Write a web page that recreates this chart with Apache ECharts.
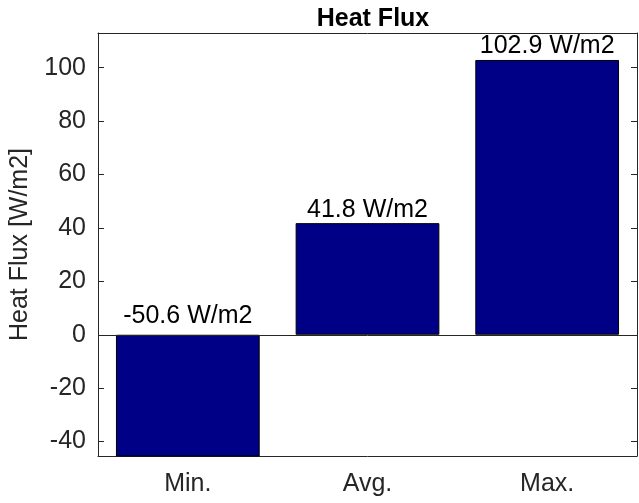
<!DOCTYPE html>
<html>
<head>
<meta charset="utf-8">
<script src="https://cdn.jsdelivr.net/npm/echarts@6/dist/echarts.min.js"></script>
<style>
    html, body { margin: 0; padding: 0; background: #fff; }
    #heat_flux { width: 639px; height: 503px; }
</style>
</head>
<body>
<div id="heat_flux"></div>
<script>
// chart data
var categories = ['Min.', 'Avg.', 'Max.'];
var fluxValues = [-50.6, 41.8, 102.9];
var yTicks = [-40, -20, 0, 20, 40, 60, 80, 100];
var unit = 'W/m2';

(function () {
    var myChart = echarts.init(document.getElementById("heat_flux"));
    var font = 'Liberation Sans, Arial, Helvetica, sans-serif';
    var fontSize = 25;
    var axisColor = '#262626';

    // 负值的标签放在零线上方，距离稍大
    var barData = [];
    for (var i = 0; i < fluxValues.length; i++) {
        barData.push({
            value: fluxValues[i],
            label: { distance: fluxValues[i] < 0 ? 6 : 1 }
        });
    }

    var yAxisBase = {
        type: 'value',
        min: -45.4,
        max: 113,
        minInterval: 20,
        maxInterval: 20,
        splitLine: { show: false },
        axisLine: { show: true, lineStyle: { color: axisColor, width: 1 } },
        axisTick: { show: true, inside: true, length: 6, lineStyle: { color: axisColor } }
    };

    var option = {
        animation: false,
        backgroundColor: '#fff',
        title: {
            text: 'Heat Flux',
            left: 368,
            top: 2,
            textAlign: 'center',
            textStyle: { fontFamily: font, fontSize: fontSize, fontWeight: 'bold', color: '#000' }
        },
        grid: { left: 98, right: 2, top: 33, bottom: 47 },
        xAxis: [
            {
                type: 'category',
                data: categories,
                position: 'bottom',
                axisLine: { onZero: false, lineStyle: { color: axisColor, width: 1 } },
                axisTick: { inside: true, alignWithLabel: true, length: 6, lineStyle: { color: axisColor } },
                axisLabel: { margin: 16, fontFamily: font, fontSize: fontSize, color: axisColor }
            },
            {
                type: 'category',
                data: categories,
                position: 'top',
                axisLine: { onZero: false, lineStyle: { color: axisColor, width: 1 } },
                axisTick: { inside: true, alignWithLabel: true, length: 6, lineStyle: { color: axisColor } },
                axisLabel: { show: false }
            }
        ],
        yAxis: [
            Object.assign({}, yAxisBase, {
                position: 'left',
                name: 'Heat Flux [' + unit + ']',
                nameLocation: 'middle',
                nameRotate: 90,
                nameGap: 65,
                nameTextStyle: { fontFamily: font, fontSize: fontSize, color: axisColor },
                axisLabel: {
                    margin: 12,
                    fontFamily: font,
                    fontSize: fontSize,
                    color: axisColor,
                    formatter: function (v) {
                        return yTicks.indexOf(Math.round(v * 10) / 10) >= 0 ? String(v) : '';
                    }
                }
            }),
            Object.assign({}, yAxisBase, {
                position: 'right',
                axisLabel: { show: false }
            })
        ],
        series: [
            {
                type: 'bar',
                xAxisIndex: 0,
                yAxisIndex: 0,
                barWidth: '80%',
                data: barData,
                itemStyle: { color: '#000086', borderColor: '#000', borderWidth: 1 },
                label: {
                    show: true,
                    position: 'top',
                    fontFamily: font,
                    fontSize: fontSize,
                    color: '#000',
                    formatter: function (p) {
                        return p.value.toFixed(1) + ' ' + unit;
                    }
                },
                markLine: {
                    silent: true,
                    symbol: 'none',
                    label: { show: false },
                    lineStyle: { color: axisColor, width: 1, type: 'solid' },
                    data: [{ yAxis: 0 }]
                }
            }
        ]
    };
    myChart.setOption(option);
    window.addEventListener("resize", function () {
        myChart.resize();
    });
})();
</script>
</body>
</html>
